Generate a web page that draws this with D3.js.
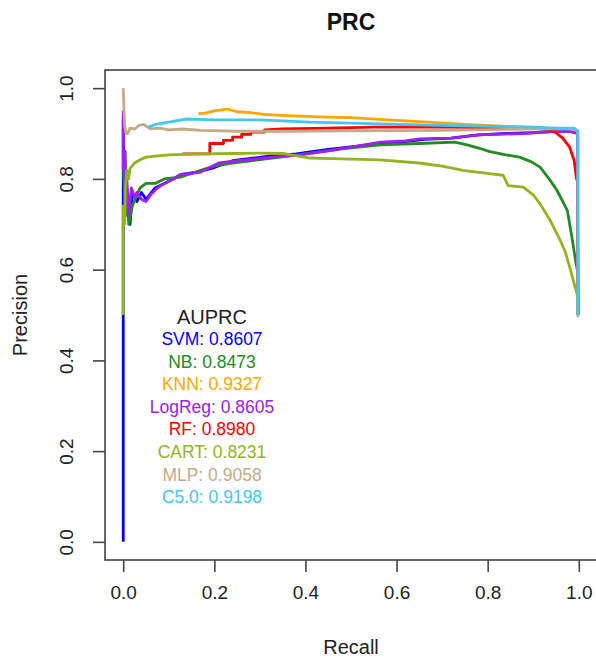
<!DOCTYPE html>
<html>
<head>
<meta charset="utf-8">
<script src="https://cdn.jsdelivr.net/npm/d3@7"></script>
<style>
  body { margin: 0; background: #fff; }
  svg text { font-family: "Liberation Sans", Arial, sans-serif; }
</style>
</head>
<body>
<div id="chart"></div>
<script>
// model names, AUPRC values and colours
const models = ["SVM", "NB", "KNN", "LogReg", "RF", "CART", "MLP", "C5.0"]
const auprc = ["0.8607", "0.8473", "0.9327", "0.8605", "0.8980", "0.8231", "0.9058", "0.9198"]
const colors = ["#0000ff", "#228b22", "#ffa500", "#a020f0", "#ff0000", "#93b41c", "#c6aa86", "#45c6f2"]

const xTicks = [0, 0.2, 0.4, 0.6, 0.8, 1.0]
const yTicks = [0, 0.2, 0.4, 0.6, 0.8, 1.0]

// [recall, precision]
const svmPts = [[0,0],[0,0.5],[0,0.93],[0.002,0.78],[0.004,0.86],[0.006,0.72],[0.01,0.76],[0.015,0.70],[0.02,0.77],
  [0.03,0.75],[0.04,0.77],[0.05,0.755],[0.07,0.78],[0.09,0.79],[0.11,0.80],[0.13,0.81],[0.16,0.815],[0.2,0.825],
  [0.24,0.84],[0.28,0.845],[0.32,0.85],[0.38,0.855],[0.45,0.865],[0.52,0.873],[0.6,0.88],[0.66,0.887],[0.72,0.89],
  [0.78,0.897],[0.84,0.9],[0.9,0.902],[0.95,0.905],[0.98,0.905],[0.997,0.9],[0.998,0.5]]
const nbPts = [[0,0.83],[0.005,0.72],[0.008,0.78],[0.012,0.70],[0.02,0.74],[0.03,0.765],[0.037,0.78],[0.05,0.79],
  [0.07,0.79],[0.09,0.80],[0.125,0.804],[0.15,0.812],[0.17,0.819],[0.2,0.828],[0.235,0.834],[0.28,0.84],[0.345,0.848],
  [0.41,0.857],[0.48,0.866],[0.564,0.875],[0.65,0.878],[0.728,0.881],[0.755,0.875],[0.78,0.868],[0.805,0.86],
  [0.84,0.853],[0.87,0.848],[0.895,0.838],[0.915,0.826],[0.935,0.8],[0.952,0.775],[0.965,0.75],[0.975,0.73],
  [0.985,0.671],[0.993,0.62],[0.998,0.592],[0.998,0.5]]
const knnPts = [[0.165,0.944],[0.18,0.945],[0.2,0.95],[0.228,0.954],[0.25,0.948],[0.28,0.946],[0.31,0.942],
  [0.345,0.94],[0.4,0.938],[0.45,0.936],[0.5,0.935],[0.58,0.93],[0.65,0.926],[0.75,0.92],[0.8,0.918],[0.856,0.915],
  [0.92,0.912],[0.97,0.91],[0.997,0.905],[0.998,0.5]]
const logregPts = [[0,0.95],[0,0.82],[0.003,0.86],[0.005,0.74],[0.008,0.80],[0.012,0.72],[0.018,0.78],[0.025,0.76],
  [0.03,0.77],[0.04,0.755],[0.05,0.75],[0.06,0.765],[0.075,0.78],[0.09,0.79],[0.11,0.80],[0.125,0.81],[0.15,0.812],
  [0.17,0.815],[0.19,0.825],[0.21,0.835],[0.25,0.84],[0.3,0.845],[0.35,0.85],[0.39,0.853],[0.45,0.862],[0.5,0.87],
  [0.565,0.881],[0.62,0.884],[0.65,0.888],[0.72,0.89],[0.78,0.897],[0.88,0.9],[0.95,0.905],[0.98,0.905],
  [0.997,0.9],[0.998,0.5]]
const rfPts = [[0.13,0.855],[0.19,0.855],[0.19,0.878],[0.22,0.878],[0.22,0.885],[0.24,0.885],[0.24,0.892],
  [0.26,0.892],[0.26,0.898],[0.28,0.898],[0.28,0.903],[0.31,0.903],[0.31,0.908],[0.35,0.91],[0.45,0.912],
  [0.55,0.914],[0.7,0.914],[0.8,0.913],[0.88,0.912],[0.93,0.91],[0.948,0.903],[0.965,0.89],[0.98,0.87],
  [0.99,0.84],[0.995,0.80],[0.997,0.797],[0.998,0.5]]
const cartPts = [[0,0.5],[0,0.74],[0.003,0.70],[0.005,0.78],[0.008,0.82],[0.012,0.80],[0.015,0.823],[0.025,0.835],
  [0.037,0.842],[0.05,0.848],[0.07,0.85],[0.1,0.853],[0.17,0.855],[0.25,0.856],[0.3,0.857],[0.35,0.856],
  [0.41,0.846],[0.48,0.844],[0.564,0.842],[0.65,0.835],[0.7,0.828],[0.746,0.819],[0.8,0.812],[0.834,0.808],
  [0.845,0.785],[0.878,0.782],[0.9,0.765],[0.915,0.745],[0.937,0.709],[0.959,0.665],[0.97,0.64],[0.98,0.606],
  [0.992,0.561],[0.997,0.545],[0.998,0.5]]
const mlpPts = [[0,1.0],[0.003,0.92],[0.006,0.9],[0.01,0.9],[0.015,0.912],[0.025,0.91],[0.035,0.918],[0.045,0.92],
  [0.06,0.91],[0.08,0.912],[0.1,0.908],[0.13,0.91],[0.17,0.907],[0.25,0.905],[0.35,0.905],[0.5,0.906],[0.7,0.907],
  [0.85,0.909],[0.95,0.911],[0.99,0.91],[0.998,0.905],[0.998,0.495]]
const c50Pts = [[0.055,0.914],[0.07,0.92],[0.1,0.925],[0.14,0.932],[0.2,0.93],[0.3,0.93],[0.41,0.925],[0.5,0.923],
  [0.565,0.921],[0.7,0.918],[0.8,0.916],[0.9,0.914],[0.95,0.912],[0.99,0.912],[0.998,0.905],[0.998,0.5]]

const curves = [svmPts, nbPts, knnPts, logregPts, rfPts, cartPts, mlpPts, c50Pts]

const width = 596
const height = 659

const svg = d3.select("#chart")
  .append("svg")
  .attr("width", width)
  .attr("height", height)

// R style 4% padding around the data range
const x = d3.scaleLinear().domain([-0.04, 1.04]).range([105, 597])
const y = d3.scaleLinear().domain([-0.04, 1.04]).range([560, 70])

const line = d3.line()
  .x((d) => x(d[0]))
  .y((d) => y(d[1]))

svg.append("g")
  .selectAll("path")
  .data(curves)
  .join("path")
  .attr("d", line)
  .attr("fill", "none")
  .attr("stroke", (d, i) => colors[i])
  .attr("stroke-width", 2.8)
  .attr("stroke-linejoin", "round")

// box
svg.append("rect")
  .attr("x", 105)
  .attr("y", 70)
  .attr("width", 492)
  .attr("height", 490)
  .attr("fill", "none")
  .attr("stroke", "#444")
  .attr("stroke-width", 1.6)

// axes
const xAxis = svg.append("g")
  .attr("transform", "translate(0,560)")
  .call(d3.axisBottom(x).tickValues(xTicks).tickSize(12).tickPadding(14).tickFormat(d3.format(".1f")))
xAxis.select(".domain").remove()
xAxis.selectAll("line").attr("stroke", "#444").attr("stroke-width", 1.6)
xAxis.selectAll("text")
  .style("font-size", "19px")
  .attr("fill", "#222")

const yAxis = svg.append("g")
  .attr("transform", "translate(105,0)")
  .call(d3.axisLeft(y).tickValues(yTicks).tickSize(12).tickFormat(d3.format(".1f")))
yAxis.select(".domain").remove()
yAxis.selectAll("line").attr("stroke", "#444").attr("stroke-width", 1.6)
yAxis.selectAll("text")
  .style("font-size", "19px")
  .attr("fill", "#222")
  .attr("text-anchor", "middle")
  .attr("dy", null)
  .attr("x", null)
  .attr("transform", "translate(-39,0) rotate(-90)")
  .attr("dominant-baseline", "central")

// titles
svg.append("text")
  .attr("x", 351)
  .attr("y", 30)
  .attr("text-anchor", "middle")
  .style("font-size", "23px")
  .style("font-weight", "bold")
  .attr("fill", "#111")
  .text("PRC")

svg.append("text")
  .attr("x", 351)
  .attr("y", 654)
  .attr("text-anchor", "middle")
  .style("font-size", "20px")
  .attr("fill", "#222")
  .text("Recall")

svg.append("text")
  .attr("transform", "translate(27,315) rotate(-90)")
  .attr("text-anchor", "middle")
  .style("font-size", "20px")
  .attr("fill", "#222")
  .text("Precision")

// legend
const legend = svg.append("g").attr("transform", "translate(212,0)")

legend.append("text")
  .attr("y", 324)
  .attr("text-anchor", "middle")
  .style("font-size", "20px")
  .attr("fill", "#222")
  .text("AUPRC")

legend.selectAll(".entry")
  .data(models)
  .join("text")
  .attr("class", "entry")
  .attr("y", (d, i) => 345 + i * 22.6)
  .attr("text-anchor", "middle")
  .style("font-size", "17.5px")
  .attr("fill", (d, i) => colors[i])
  .text((d, i) => d + ": " + auprc[i])
</script>
</body>
</html>
